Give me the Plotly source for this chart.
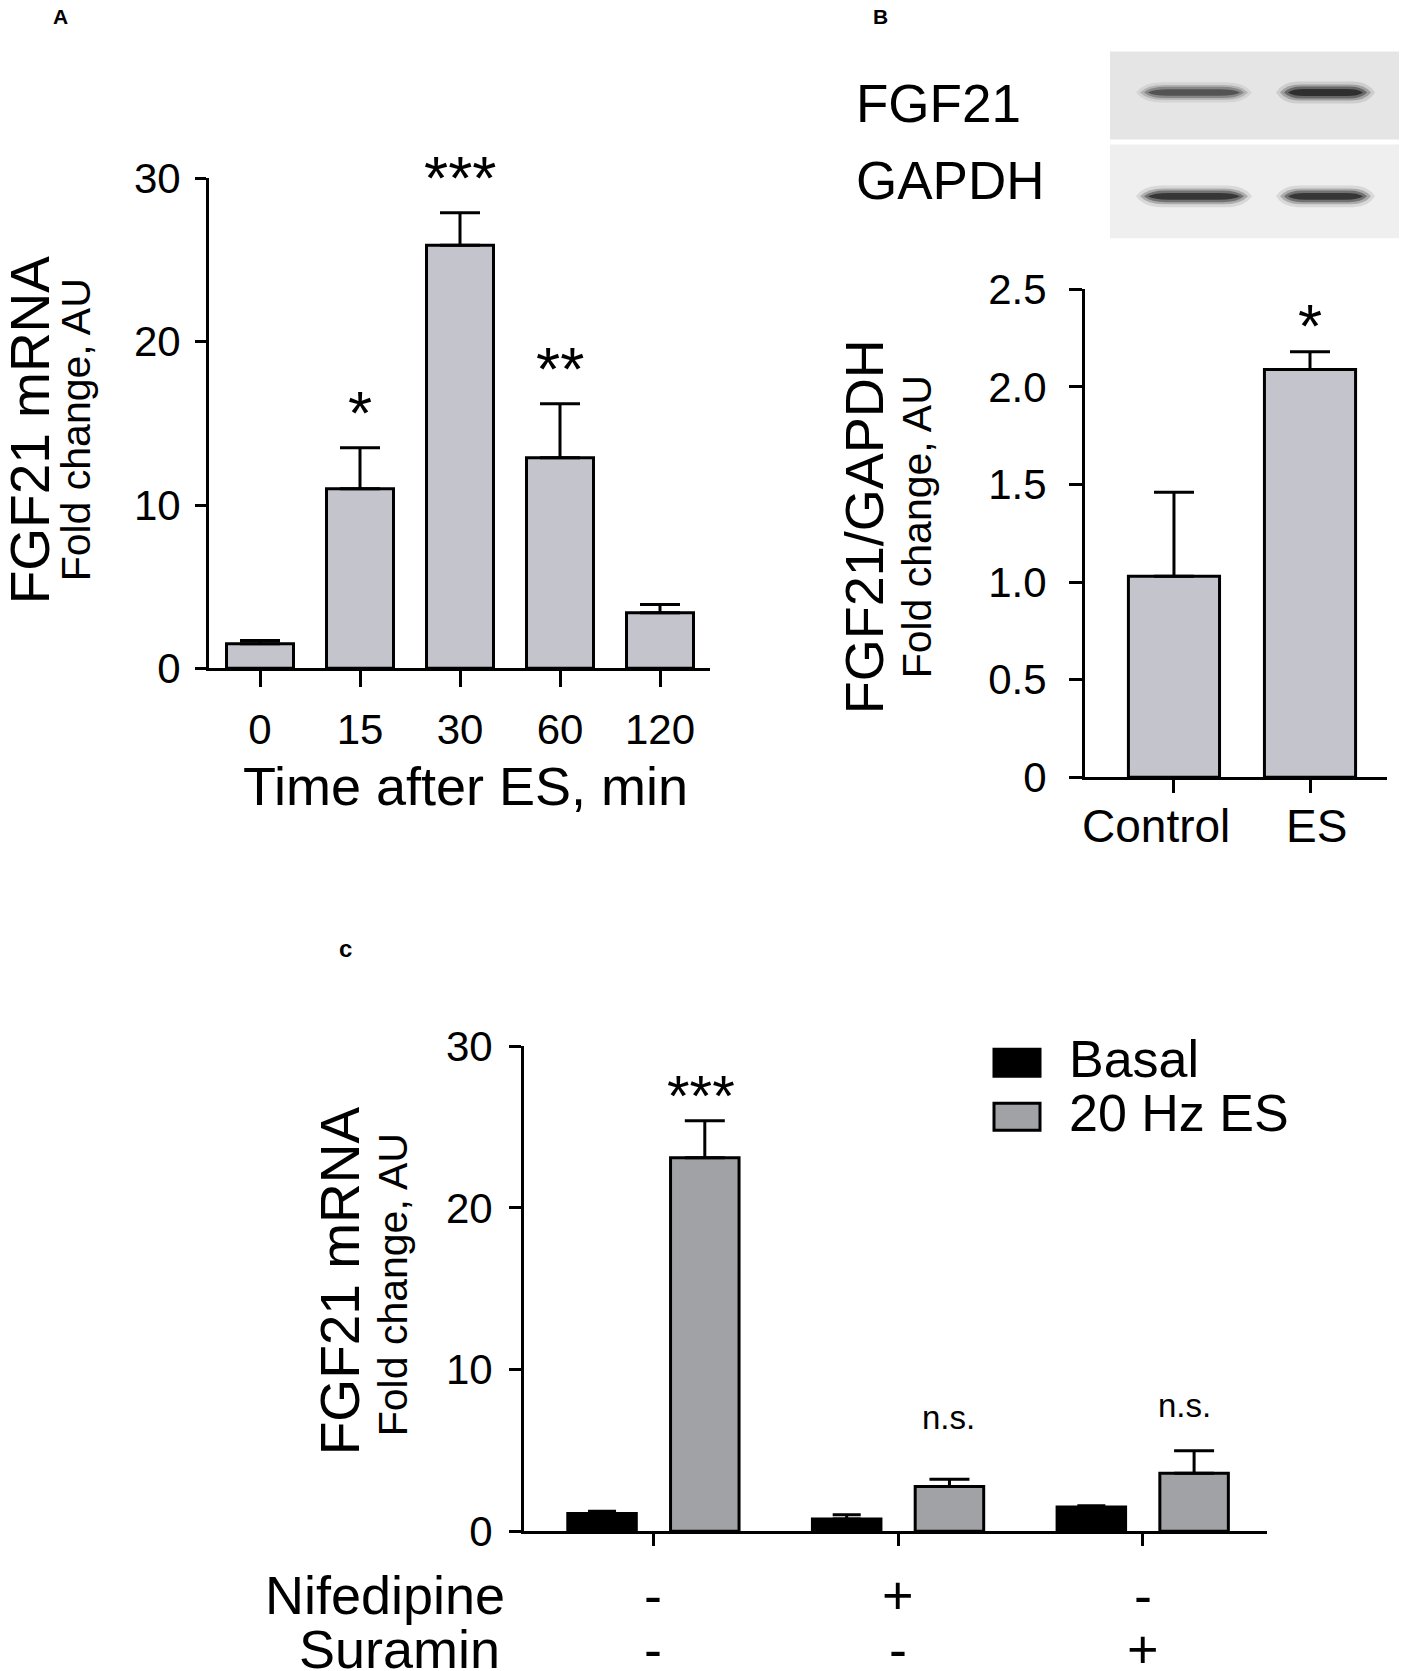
import plotly.graph_objects as go

W, H = 1407, 1671
FONT = "Liberation Sans, Arial, sans-serif"

# ---- panel A: FGF21 mRNA time course ----
a_times = ["0", "15", "30", "60", "120"]
a_mean = [1.5, 11.0, 25.9, 12.9, 3.4]
a_sem = [0.2, 2.5, 2.0, 3.3, 0.5]
a_sig = ["", "*", "***", "**", ""]

# ---- panel B: western blot quantification ----
b_groups = ["Control", "ES"]
b_mean = [1.03, 2.09]
b_sem = [0.43, 0.09]
b_sig = ["", "*"]
blot_rows = ["FGF21", "GAPDH"]
band_darkness = [[0.70, 1.0], [0.95, 0.95]]

# ---- panel C: inhibitors ----
c_groups = ["none", "nifedipine", "suramin"]
c_basal = [1.1, 0.75, 1.5]
c_basal_sem = [0.13, 0.27, 0.08]
c_es = [23.1, 2.77, 3.58]
c_es_sem = [2.3, 0.45, 1.39]
c_sig = ["***", "n.s.", "n.s."]
nifedipine = ["-", "+", "-"]
suramin = ["-", "-", "+"]


# pixel -> paper, with a correction for how the page lands in the screenshot
def px(x):
    return (x - 7) / W


def py(y):
    return 1 - ((y - 31.6) / 0.972) / H


LIGHT = "#c3c4cc"
MID = "#a1a2a6"


def err(vals):
    return dict(type="data", array=vals, arrayminus=[0] * len(vals), symmetric=False,
                color="black", thickness=3, width=20)


fig = go.Figure()

fig.add_trace(go.Bar(x=a_times, y=a_mean, width=0.67, error_y=err(a_sem),
                     marker=dict(color=LIGHT, line=dict(color="black", width=3)),
                     xaxis="x", yaxis="y"))
fig.add_trace(go.Bar(x=b_groups, y=b_mean, width=0.67, error_y=err(b_sem),
                     marker=dict(color=LIGHT, line=dict(color="black", width=3)),
                     xaxis="x2", yaxis="y2"))
fig.add_trace(go.Bar(x=c_groups, y=c_basal, width=0.28, offset=-0.35,
                     error_y=dict(err(c_basal_sem), width=14),
                     marker=dict(color="black", line=dict(color="black", width=3)),
                     name="Basal", xaxis="x3", yaxis="y3"))
fig.add_trace(go.Bar(x=c_groups, y=c_es, width=0.28, offset=0.07, error_y=err(c_es_sem),
                     marker=dict(color=MID, line=dict(color="black", width=3)),
                     name="20 Hz ES", xaxis="x3", yaxis="y3"))

ax = dict(showline=True, linewidth=3, linecolor="black", ticks="outside", tickwidth=3,
          tickcolor="black", showgrid=False, zeroline=False,
          tickfont=dict(family=FONT, size=42, color="black"))

fig.update_layout(
    width=W, height=H, margin=dict(l=0, r=0, t=0, b=0),
    paper_bgcolor="white", plot_bgcolor="white", showlegend=False, barmode="overlay",
    font=dict(family=FONT, color="black"),
    xaxis=dict(ax, domain=[px(208), px(709)], range=[-0.51, 4.5], anchor="y",
               ticklen=16, ticklabelstandoff=6),
    yaxis=dict(ax, domain=[py(669), py(179)], range=[0, 30], tickvals=[0, 10, 20, 30],
               anchor="x", ticklen=11, ticklabelstandoff=6),
    xaxis2=dict(ax, domain=[px(1084), px(1386)], range=[-0.654, 1.566], anchor="y2",
                ticklen=13, showticklabels=False),
    yaxis2=dict(ax, domain=[py(778), py(290)], range=[0, 2.5],
                tickvals=[0, 0.5, 1.0, 1.5, 2.0, 2.5],
                ticktext=["0", "0.5", "1.0", "1.5", "2.0", "2.5"],
                anchor="x2", ticklen=13, ticklabelstandoff=14),
    xaxis3=dict(ax, domain=[px(523), px(1266)], range=[-0.529, 2.508], anchor="y3",
                ticklen=12, showticklabels=False),
    yaxis3=dict(ax, domain=[py(1532), py(1047)], range=[0, 30], tickvals=[0, 10, 20, 30],
                anchor="x3", ticklen=12, ticklabelstandoff=8),
)

ann = []


def text(x, y, s, size, xref="paper", yref="paper", angle=0, xanchor="center",
         yanchor="middle", bold=False, xshift=0, yshift=0):
    ann.append(dict(x=x, y=y, xref=xref, yref=yref, text=f"<b>{s}</b>" if bold else s,
                    showarrow=False, textangle=angle, xanchor=xanchor, yanchor=yanchor,
                    xshift=xshift, yshift=yshift,
                    font=dict(family=FONT, size=size, color="black")))


# panel letters
text(px(59), py(17), "A", 21, bold=True)
text(px(879), py(17), "B", 21, bold=True)
text(px(344), py(949), "c", 24, bold=True)

# axis titles
text(px(29), py(431), "FGF21 mRNA", 55, angle=-90)
text(px(75), py(431), "Fold change, AU", 41, angle=-90)
text(px(464), py(787), "Time after ES, min", 54)
text(px(863), py(528), "FGF21/GAPDH", 54, angle=-90)
text(px(916), py(528), "Fold change, AU", 41, angle=-90)
text(px(339), py(1282), "FGF21 mRNA", 55, angle=-90)
text(px(392), py(1285), "Fold change, AU", 41, angle=-90)

# B category labels
text(0, py(827), "Control", 46, xref="x2", xshift=-18)
text(1, py(827), "ES", 46, xref="x2", xshift=6)

# significance marks (x as category index)
for i, (m, s, lab) in enumerate(zip(a_mean, a_sem, a_sig)):
    if lab:
        text(i, m + s, lab, 62, xref="x", yref="y", yanchor="bottom", yshift=-1)
for i, (m, s, lab) in enumerate(zip(b_mean, b_sem, b_sig)):
    if lab:
        text(i, m + s, lab, 62, xref="x2", yref="y2", yanchor="bottom", yshift=-10)
for i, (m, s, lab) in enumerate(zip(c_es, c_es_sem, c_sig)):
    size = 58 if lab.startswith("*") else 33
    text(i, m + s, lab, size, xref="x3", yref="y3", yanchor="bottom",
         xshift=[48, 50, 42][i], yshift=[-9, 41, 25][i])

# treatment rows under C
text(px(506), py(1596), "Nifedipine", 54, xanchor="right")
text(px(501), py(1650), "Suramin", 54, xanchor="right")
for i, (n, s) in enumerate(zip(nifedipine, suramin)):
    text(i, py(1596), n, 54, xref="x3")
    text(i, py(1650), s, 54, xref="x3")

# legend for C
shapes = []
for (name, col), y0 in zip([("Basal", "black"), ("20 Hz ES", MID)], [1050, 1104]):
    shapes.append(dict(type="rect", xref="paper", yref="paper", x0=px(993), x1=px(1039),
                       y0=py(y0 + 27), y1=py(y0), fillcolor=col,
                       line=dict(color="black", width=3)))
    text(px(1066), py(y0 + 10), name, 52, xanchor="left")

# blot labels
text(px(853), py(104), blot_rows[0], 53, xanchor="left")
text(px(853), py(181), blot_rows[1], 53, xanchor="left")


def band(l, r, yc, h, taper):
    # lens-like band with flat middle, tapered ends (pixel coords -> paper)
    t = (r - l) * taper
    pts = [
        f"M {px(l):.5f},{py(yc):.5f}",
        f"Q {px(l + t * 0.3):.5f},{py(yc - h):.5f} {px(l + t):.5f},{py(yc - h):.5f}",
        f"L {px(r - t):.5f},{py(yc - h):.5f}",
        f"Q {px(r - t * 0.3):.5f},{py(yc - h):.5f} {px(r):.5f},{py(yc):.5f}",
        f"Q {px(r - t * 0.3):.5f},{py(yc + h):.5f} {px(r - t):.5f},{py(yc + h):.5f}",
        f"L {px(l + t):.5f},{py(yc + h):.5f}",
        f"Q {px(l + t * 0.3):.5f},{py(yc + h):.5f} {px(l):.5f},{py(yc):.5f} Z",
    ]
    return " ".join(pts)


# blot strips with blurred bands
strips = [(52, 140, "#e5e5e5", 93), (145, 239, "#efefef", 197)]
lanes = [(1139, 1247), (1279, 1370)]
for (top, bot, bg, yc), dark in zip(strips, band_darkness):
    shapes.append(dict(type="rect", xref="paper", yref="paper", x0=px(1109), x1=px(1402),
                       y0=py(bot), y1=py(top), fillcolor=bg, line=dict(width=0), layer="below"))
    for (l, r), d in zip(lanes, dark):
        for h, op, pad in [(11, 0.10, -4), (8, 0.22, 0), (6, 0.35, 4), (3.5, 0.55, 8)]:
            shapes.append(dict(type="path", xref="paper", yref="paper",
                               path=band(l + pad, r - pad, yc, h * (0.75 + 0.25 * d), 0.22),
                               fillcolor="black", opacity=op * d, line=dict(width=0),
                               layer="below"))

fig.update_layout(annotations=ann, shapes=shapes)
fig.write_html("out.html")
